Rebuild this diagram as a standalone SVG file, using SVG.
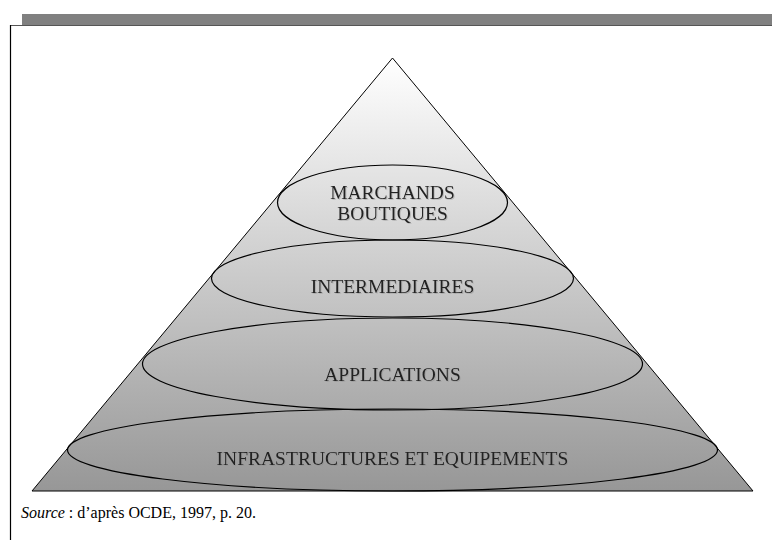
<svg xmlns="http://www.w3.org/2000/svg" width="772" height="540" viewBox="0 0 772 540">
<defs>
<linearGradient id="pyr" x1="0" y1="58" x2="0" y2="491" gradientUnits="userSpaceOnUse">
<stop offset="0" stop-color="#ffffff"/>
<stop offset="1" stop-color="#979797"/>
</linearGradient>
<filter id="sh" x="-5%" y="-30%" width="110%" height="160%">
<feDropShadow dx="1" dy="1" stdDeviation="0.5" flood-color="#888" flood-opacity="0.4"/>
</filter>
</defs>
<style>
.lvl{fill:none;stroke:#000;stroke-width:1.2}
.lbl{font-family:"Liberation Serif","Times New Roman",serif;font-size:19.5px;fill:#222;text-anchor:middle;filter:url(#sh)}
.src{font-family:"Liberation Serif","Times New Roman",serif;font-size:16px;fill:#000}
</style>
<rect width="772" height="540" fill="#fff"/>
<g id="frame">
<rect x="22" y="14" width="750" height="11" fill="#808080"/>
<line x1="10" y1="25.5" x2="772" y2="25.5" stroke="#555" stroke-width="1"/>
<line x1="10.5" y1="25" x2="10.5" y2="540" stroke="#000" stroke-width="1.2"/>
</g>
<g id="pyramid">
<polygon points="392.5,58 32,491 753,491" fill="url(#pyr)" stroke="#000" stroke-width="1"/>
</g>
<g id="connectors"></g>
<g id="infrastructures">
<ellipse class="lvl" cx="392.5" cy="450" rx="325" ry="41"/>
<text class="lbl" x="392.5" y="465">INFRASTRUCTURES ET EQUIPEMENTS</text>
</g>
<g id="applications">
<ellipse class="lvl" cx="392.5" cy="364" rx="250" ry="46"/>
<text class="lbl" x="392.5" y="380.5">APPLICATIONS</text>
</g>
<g id="intermediaires">
<ellipse class="lvl" cx="392.5" cy="278.5" rx="181" ry="38.5"/>
<text class="lbl" x="392.5" y="292.5">INTERMEDIAIRES</text>
</g>
<g id="marchands">
<ellipse class="lvl" cx="392.5" cy="202.5" rx="115" ry="37.5"/>
<text class="lbl" x="392.5" y="199.3">MARCHANDS</text>
<text class="lbl" x="392.5" y="219.5">BOUTIQUES</text>
</g>
<g id="source">
<text class="src" x="21" y="518"><tspan font-style="italic">Source</tspan> : d’après OCDE, 1997, p. 20.</text>
</g>
</svg>
